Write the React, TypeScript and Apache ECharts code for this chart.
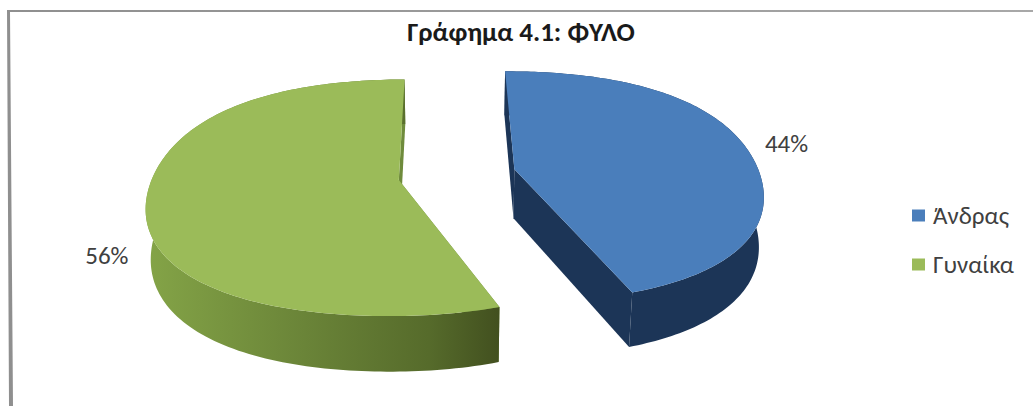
import React, { useEffect, useRef } from "react";
import * as echarts from "echarts";

// Share of respondents by sex, in percent
const categories = ["Άνδρας", "Γυναίκα"];
const shares = [44, 56];
const topColors = ["#4a7ebb", "#9bbb59"];
const chartTitle = "Γράφημα 4.1: ΦΥΛΟ";

const FONT = "Carlito, 'Open Sans', 'Noto Sans', sans-serif";

// Perspective camera for the tilted, extruded pie
const VIEW = { x0: 457, y0: 174.5, a: 245.5, b: 114, k: 0.15, depth: 50, m: 0.016 };
const START_DEG = -0.5;
const EXPLODE = 0.24;
const LABEL_RADIUS = [1.18, 1.17];
// Slight fullness of the rim on the diagonals
const RIM_BULGE = 0.035;

type Pt = [number, number];

function project(u: number, v: number, z: number): Pt {
  const w = 1 - VIEW.k * v + VIEW.m * z;
  return [VIEW.x0 + (VIEW.a * u) / w, VIEW.y0 + (VIEW.b * v + VIEW.depth * z) / w];
}

function sliceGeometry(index: number) {
  const total = shares.reduce((s, x) => s + x, 0);
  const before = shares.slice(0, index).reduce((s, x) => s + x, 0);
  const t0 = ((START_DEG + (before / total) * 360) * Math.PI) / 180;
  const t1 = ((START_DEG + ((before + shares[index]) / total) * 360) * Math.PI) / 180;
  const mid = (t0 + t1) / 2;
  const cu = EXPLODE * Math.sin(mid);
  const cv = -EXPLODE * Math.cos(mid);
  const rim = (t: number, z: number, r = 1) => {
    const rr = r * (1 + RIM_BULGE * Math.sin(2 * t) ** 2);
    return project(cu + rr * Math.sin(t), cv - rr * Math.cos(t), z);
  };
  return { t0, t1, mid, cu, cv, rim };
}

function arcPoints(index: number, z: number): Pt[] {
  const { t0, t1, rim } = sliceGeometry(index);
  const steps = 160;
  const pts: Pt[] = [];
  for (let i = 0; i <= steps; i++) pts.push(rim(t0 + ((t1 - t0) * i) / steps, z));
  return pts;
}

function wallFill(index: number) {
  if (index === 0) return "#1c3557";
  return new echarts.graphic.LinearGradient(0, 0, 1, 0, [
    { offset: 0, color: "#84a447" },
    { offset: 0.45, color: "#6a8438" },
    { offset: 0.8, color: "#566b2b" },
    { offset: 1, color: "#42501f" },
  ]);
}

function renderSlice(index: number) {
  const { t0, t1, mid, cu, cv, rim } = sliceGeometry(index);
  const apexTop = project(cu, cv, 0);
  const apexBottom = project(cu, cv, 1);
  const arcTop = arcPoints(index, 0);
  const arcBottom = arcPoints(index, 1);
  const radialFill = index === 0 ? "#1c3557" : "#6f8b3c";

  const radial = (t: number) => ({
    type: "polygon",
    shape: { points: [apexTop, rim(t, 0), rim(t, 1), apexBottom] },
    style: { fill: radialFill },
  });

  const nearSide = -Math.cos(mid) > 0;
  const labelPos = rim(mid, nearSide ? 0.95 : 0, LABEL_RADIUS[index]);

  return {
    type: "group",
    children: [
      radial(t0),
      radial(t1),
      {
        type: "polygon",
        shape: { points: [...arcTop, ...arcBottom.slice().reverse()] },
        style: { fill: wallFill(index) },
      },
      {
        type: "polygon",
        shape: { points: [apexTop, ...arcTop] },
        style: { fill: topColors[index] },
      },
      {
        type: "text",
        x: labelPos[0],
        y: labelPos[1],
        style: {
          text: `${shares[index]}%`,
          fill: "#404040",
          font: `25px ${FONT}`,
          align: "center",
          verticalAlign: "middle",
        },
      },
    ],
  };
}

export default function App() {
  const ref = useRef<HTMLDivElement>(null);

  useEffect(() => {
    const chart = echarts.init(ref.current!, null, { renderer: "svg" });
    chart.setOption({
      animation: false,
      backgroundColor: "#ffffff",
      title: {
        text: chartTitle,
        left: 516,
        top: 13,
        textAlign: "center",
        textStyle: { fontFamily: FONT, fontSize: 27, fontWeight: 600, color: "#1a1a1a" },
      },
      legend: {
        orient: "vertical",
        left: 912,
        top: 203,
        padding: 0,
        icon: "rect",
        itemWidth: 13,
        itemHeight: 12,
        itemGap: 24,
        data: categories,
        selectedMode: false,
        textStyle: { fontFamily: FONT, fontSize: 25, color: "#404040", padding: [0, 0, 0, 3] },
      },
      series: categories.map((name, index) => ({
        type: "custom",
        name,
        coordinateSystem: "none",
        silent: true,
        itemStyle: { color: topColors[index] },
        data: [shares[index]],
        renderItem: () => renderSlice(index),
      })),
      graphic: [
        // Grey edge of the frame along the top and the left
        {
          type: "polygon",
          silent: true,
          shape: { points: [[7, 10], [1033, 10], [1033, 12], [10, 12], [13, 406], [9, 406]] },
          style: {
            fill: new echarts.graphic.LinearGradient(0, 0, 1, 0, [
              { offset: 0, color: "#8f8f8f" },
              { offset: 1, color: "#a8a8a8" },
            ]),
          },
        },
      ],
    });
    return () => chart.dispose();
  }, []);

  return (
    <div
      ref={ref}
      style={{ position: "absolute", left: 0, top: 0, width: 1033, height: 406 }}
    />
  );
}
